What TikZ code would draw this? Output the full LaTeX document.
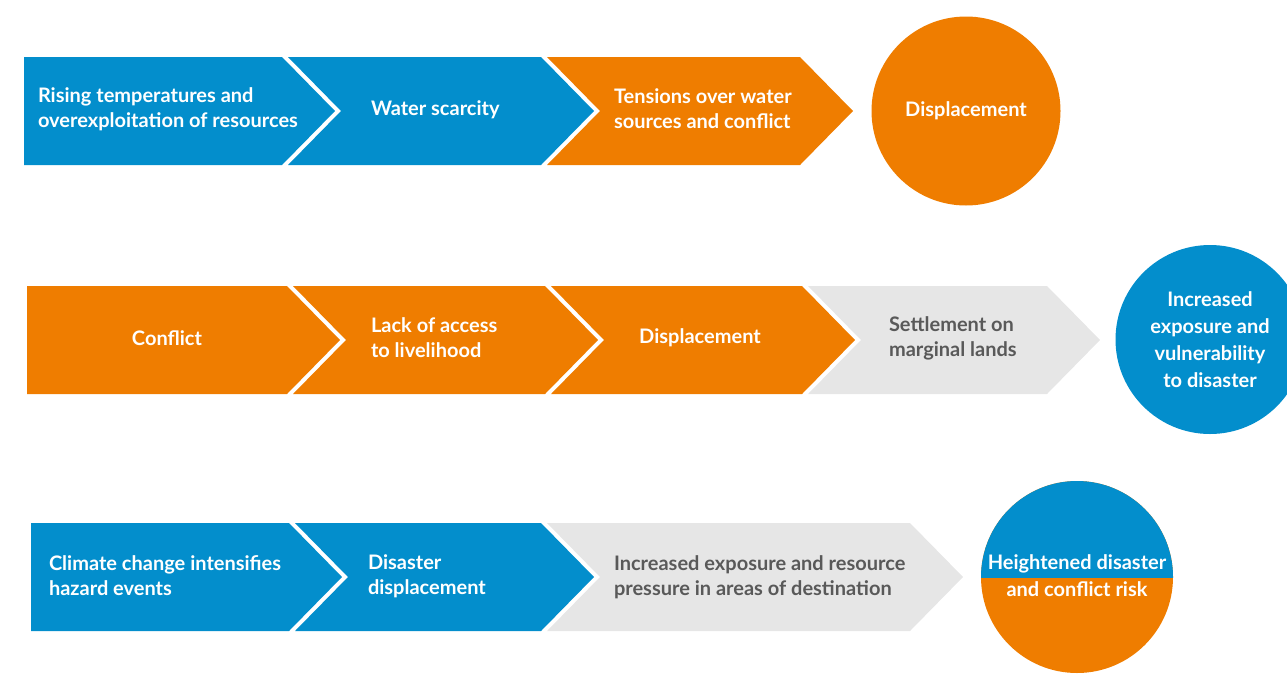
\documentclass[tikz,border=0pt]{standalone}
\usepackage{fontspec}
\setmainfont{Lato}
\definecolor{flowBlue}{HTML}{038ECC}
\definecolor{flowOrange}{HTML}{EF7D00}
\definecolor{flowGray}{HTML}{E6E6E6}
\definecolor{flowInk}{HTML}{595959}
\tikzset{
  flow diagram/.style={
    x=1pt, y=-1pt,
    every node/.style={font=\fontsize{20}{25}\selectfont\bfseries,
      inner sep=0pt, outer sep=0pt}
  },
  flow label/.style={text=white, align=left, anchor=west},
  flow note/.style={text=flowInk, align=left, anchor=west},
  flow dot/.style={circle, minimum size=189pt, text=white, align=center,
    font=\fontsize{20}{27}\selectfont\bfseries}
}
\newcommand{\FlowHead}[4]{%
  \fill[#1] (#2,#4) -- (#3,#4) -- ({#3+53},{#4+54}) -- (#3,{#4+108})
    -- (#2,{#4+108}) -- cycle;
}
\newcommand{\FlowLink}[4]{%
  \fill[#1] (#2,#4) -- (#3,#4) -- ({#3+53},{#4+54}) -- (#3,{#4+108})
    -- (#2,{#4+108}) -- ({#2+53},{#4+54}) -- cycle;
}

\begin{document}
\begin{tikzpicture}[flow diagram]
    \useasboundingbox (0,0) rectangle (1287,675);
    \FlowHead{flowBlue}{24}{282}{57}
    \FlowLink{flowBlue}{288}{541}{57}
    \FlowLink{flowOrange}{547}{800}{57}
    \node[flow label] (rising) at (38,109) {Rising temperatures and\\overexploitation of resources};
    \node[flow label] (water) at (371,110) {Water scarcity};
    \node[flow label] (tensions) at (614,109) {Tensions over water\\sources and conflict};
    \node[flow dot, fill=flowOrange] (displaced) at (966,111) {Displacement};

    \FlowHead{flowOrange}{27}{287}{286}
    \FlowLink{flowOrange}{293}{545}{286}
    \FlowLink{flowOrange}{551}{802}{286}
    \FlowLink{flowGray}{808}{1047}{286}
    \node[text=white] (conflict) at (167,338) {Conflict};
    \node[flow label] (livelihood) at (371,338) {Lack of access\\to livelihood};
    \node[text=white] (moved) at (700,338) {Displacement};
    \node[flow note] (settlement) at (889,338) {Settlement on\\marginal lands};
    \node[flow dot, fill=flowBlue] (exposure) at (1210,339.5) {Increased\\exposure and\\vulnerability\\to disaster};

    \FlowHead{flowBlue}{31}{289}{523}
    \FlowLink{flowBlue}{295}{541}{523}
    \FlowLink{flowGray}{547}{910}{523}
    \node[flow label] (climate) at (49,576) {Climate change intensifies\\hazard events};
    \node[flow label] (disaster) at (368,576) {Disaster\\displacement};
    \node[flow note] (pressure) at (614,577) {Increased exposure and resource\\pressure in areas of destination};
    \fill[flowOrange] (1077,577) circle (96);
    \begin{scope}
      \clip (981,481) rectangle (1173,577);
      \fill[flowBlue] (1077,577) circle (96);
    \end{scope}
    \node[flow dot, minimum size=192pt] (risk) at (1077,576) {Heightened disaster\\and conflict risk};
  \end{tikzpicture}
\end{document}
